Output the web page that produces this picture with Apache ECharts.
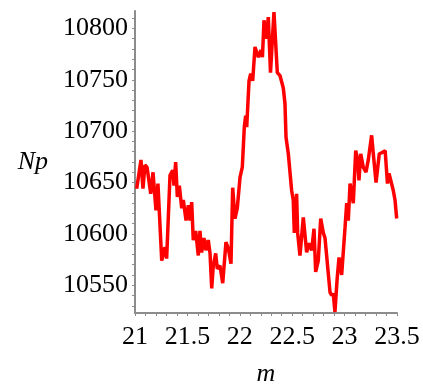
<!DOCTYPE html>
<html>
<head>
<meta charset="utf-8">
<script src="https://cdn.jsdelivr.net/npm/echarts@6/dist/echarts.min.js"></script>
<style>
html, body { margin: 0; padding: 0; background: #fff; }
#main { width: 423px; height: 386px; }
</style>
</head>
<body>
<div id="main"></div>
<script>
// m values (x) and Np values (y)
const mValues = [
	21.016, 21.057, 21.076, 21.095, 21.115, 21.150, 21.172, 21.200, 21.219, 21.255,
	21.286, 21.302, 21.334, 21.360, 21.372, 21.388, 21.404, 21.423, 21.446, 21.461,
	21.487, 21.509, 21.525, 21.541, 21.556, 21.579, 21.604, 21.620, 21.636, 21.658,
	21.677, 21.699, 21.716, 21.732, 21.747, 21.770, 21.785, 21.811, 21.837, 21.868,
	21.890, 21.916, 21.932, 21.954, 21.976, 22.002, 22.024, 22.043, 22.056, 22.066,
	22.088, 22.104, 22.123, 22.145, 22.161, 22.177, 22.202, 22.216, 22.231, 22.254,
	22.272, 22.293, 22.326, 22.358, 22.384, 22.415, 22.431, 22.441, 22.463, 22.495,
	22.510, 22.520, 22.542, 22.552, 22.574, 22.606, 22.638, 22.663, 22.686, 22.708,
	22.724, 22.749, 22.772, 22.797, 22.813, 22.829, 22.861, 22.877, 22.892, 22.908,
	22.930, 22.947, 22.972, 23.004, 23.020, 23.035, 23.052, 23.068, 23.083, 23.106,
	23.125, 23.137, 23.154, 23.178, 23.204, 23.226, 23.242, 23.258, 23.274, 23.300,
	23.331, 23.354, 23.387, 23.409, 23.424, 23.441, 23.465, 23.481, 23.497
]
const npValues = [
	10644, 10672, 10644, 10667, 10665, 10639, 10660, 10623, 10649, 10574,
	10587, 10576, 10657, 10662, 10647, 10670, 10636, 10647, 10625, 10633,
	10613, 10628, 10613, 10631, 10594, 10603, 10579, 10603, 10582, 10596,
	10584, 10594, 10581, 10547, 10569, 10581, 10566, 10569, 10552, 10592,
	10586, 10571, 10645, 10615, 10625, 10655, 10665, 10704, 10715, 10704,
	10749, 10756, 10749, 10782, 10783, 10772, 10779, 10772, 10808, 10790,
	10811, 10757, 10816, 10757, 10754, 10742, 10727, 10694, 10678, 10642,
	10633, 10601, 10639, 10601, 10579, 10616, 10582, 10591, 10584, 10605,
	10563, 10574, 10615, 10601, 10596, 10597, 10543, 10540, 10542, 10524,
	10558, 10577, 10560, 10606, 10630, 10613, 10649, 10650, 10630, 10681,
	10672, 10652, 10678, 10665, 10660, 10672, 10672, 10696, 10678, 10650,
	10678, 10679, 10681, 10649, 10659, 10659, 10642, 10633, 10615
]

// tick labels
const xLabels = [21, 21.5, 22, 22.5, 23, 23.5]
const yLabels = [10550, 10600, 10650, 10700, 10750, 10800]

// minor ticks
let xTicks = []
for (let i = 0; i <= 25; i++) xTicks.push(+(21 + i * 0.1).toFixed(1))
let yTicks = []
for (let v = 10530; v <= 10810; v += 10) yTicks.push(v)

let lineData = []
for (let i = 0; i < mValues.length; i++) {
	lineData.push([mValues[i], npValues[i]])
}

const myChart = echarts.init(document.getElementById('main'))
const fontFam = '"Liberation Serif", "DejaVu Serif", serif'

let option = {
	animation: false,
	backgroundColor: '#fff',
	grid: {
		left: 135,
		right: 26,
		top: 11,
		bottom: 73,
		outerBoundsMode: 'none'
	},
	xAxis: {
		type: 'value',
		min: 21,
		max: 23.5,
		name: 'm',
		nameLocation: 'middle',
		nameGap: 48,
		nameTextStyle: { fontFamily: fontFam, fontStyle: 'italic', fontSize: 26, color: '#000' },
		axisLine: { show: true, lineStyle: { color: '#8c8c8c', width: 2 } },
		axisTick: { show: true, length: 3, customValues: xTicks, lineStyle: { color: '#8c8c8c' } },
		axisLabel: {
			customValues: xLabels,
			margin: 11,
			fontFamily: fontFam,
			fontSize: 26,
			color: '#000',
			formatter: function (v) { return String(v) }
		},
		splitLine: { show: false }
	},
	yAxis: {
		type: 'value',
		min: 10523,
		max: 10817,
		name: 'Np',
		nameLocation: 'middle',
		nameRotate: 0,
		nameGap: 87,
		nameTextStyle: { fontFamily: fontFam, fontStyle: 'italic', fontSize: 26, color: '#000', align: 'right' },
		axisLine: { show: true, lineStyle: { color: '#8c8c8c', width: 2 } },
		axisTick: { show: true, length: 3, customValues: yTicks, lineStyle: { color: '#8c8c8c' } },
		axisLabel: {
			customValues: yLabels,
			margin: 7,
			fontFamily: fontFam,
			fontSize: 26,
			color: '#000',
			formatter: function (v) { return String(v) }
		},
		splitLine: { show: false }
	},
	series: [{
		type: 'line',
		data: lineData,
		showSymbol: false,
		lineStyle: { color: '#ff0000', width: 3.5 },
		itemStyle: { color: '#ff0000' }
	}]
}

myChart.setOption(option)
</script>
</body>
</html>
